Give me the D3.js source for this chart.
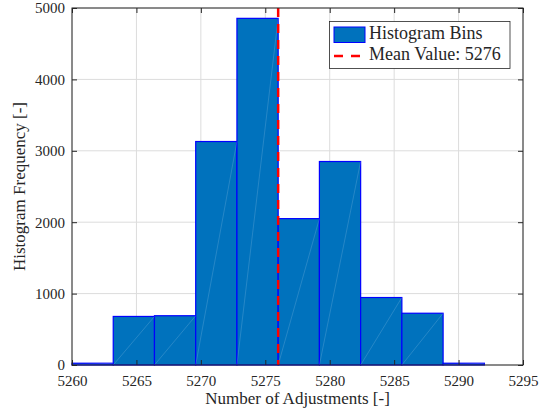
<!DOCTYPE html>
<html>
<head>
<meta charset="utf-8">
<script src="https://cdn.jsdelivr.net/npm/d3@7"></script>
<style>
  html, body { margin: 0; padding: 0; background: #fff; }
  svg { display: block; }
  text { font-family: "Liberation Serif", "DejaVu Serif", serif; fill: #262626; }
</style>
</head>
<body>
<svg id="chart" width="539" height="417"></svg>
<script>
// ---- data ----
const binEdges = [5260, 5263.2, 5266.4, 5269.6, 5272.8, 5276, 5279.2, 5282.4, 5285.6, 5288.8, 5292];
const binCounts = [25, 680, 690, 3130, 4855, 2050, 2850, 945, 725, 25];
const meanValue = 5276;
const xTicks = [5260, 5265, 5270, 5275, 5280, 5285, 5290, 5295];
const yTicks = [0, 1000, 2000, 3000, 4000, 5000];
const xLabel = "Number of Adjustments [-]";
const yLabel = "Histogram Frequency [-]";
const legendLabels = ["Histogram Bins", "Mean Value: 5276"];

// ---- layout ----
const svg = d3.select("#chart");
const L = 72, R = 523, T = 8, B = 365;
const x = d3.scaleLinear().domain([5260, 5295]).range([L, R]);
const y = d3.scaleLinear().domain([0, 5000]).range([B, T]);

// grid
const grid = svg.append("g");
grid.selectAll("line.gx").data(xTicks).join("line")
  .attr("x1", d => x(d)).attr("x2", d => x(d)).attr("y1", T).attr("y2", B)
  .attr("stroke", "#dcdcdc").attr("stroke-width", 1);
grid.selectAll("line.gy").data(yTicks).join("line")
  .attr("x1", L).attr("x2", R).attr("y1", d => y(d)).attr("y2", d => y(d))
  .attr("stroke", "#dcdcdc").attr("stroke-width", 1);

// bars
const bins = binCounts.map((c, i) => ({x0: binEdges[i], x1: binEdges[i + 1], c}));
const bars = svg.append("g");
bars.selectAll("rect").data(bins).join("rect")
  .attr("x", d => x(d.x0)).attr("y", d => y(d.c))
  .attr("width", d => x(d.x1) - x(d.x0)).attr("height", d => y(0) - y(d.c))
  .attr("fill", "#0072BD").attr("stroke", "#0000FF").attr("stroke-width", 1.2);
bars.selectAll("line").data(bins).join("line")
  .attr("x1", d => x(d.x0)).attr("y1", y(0))
  .attr("x2", d => x(d.x1)).attr("y2", d => y(d.c))
  .attr("stroke", "rgba(255,255,255,0.25)").attr("stroke-width", 0.6);

// mean line
svg.append("line")
  .attr("x1", x(meanValue)).attr("x2", x(meanValue)).attr("y1", T).attr("y2", B)
  .attr("stroke", "#FF0000").attr("stroke-width", 2.5).attr("stroke-dasharray", "9,7");

// axes box
const axX = d3.axisBottom(x).tickValues(xTicks).tickSize(-5).tickPadding(10).tickFormat(d3.format("d"));
const axY = d3.axisLeft(y).tickValues(yTicks).tickSize(-5).tickPadding(7).tickFormat(d3.format("d"));
const axXt = d3.axisTop(x).tickValues(xTicks).tickSize(-5).tickFormat("");
const axYr = d3.axisRight(y).tickValues(yTicks).tickSize(-5).tickFormat("");

function style(g) {
  g.select(".domain").remove();
  g.selectAll(".tick line").attr("stroke", "#262626");
  g.selectAll(".tick text").attr("font-size", 15).attr("fill", "#262626");
}
svg.append("g").attr("transform", `translate(0,${B})`).call(axX).call(style);
svg.append("g").attr("transform", `translate(${L},0)`).call(axY).call(style);
svg.append("g").attr("transform", `translate(0,${T})`).call(axXt).call(style);
svg.append("g").attr("transform", `translate(${R},0)`).call(axYr).call(style);
svg.append("rect").attr("x", L).attr("y", T).attr("width", R - L).attr("height", B - T)
  .attr("fill", "none").attr("stroke", "#262626").attr("stroke-width", 1);

// axis labels
svg.append("text").attr("x", (L + R) / 2).attr("y", 404).attr("text-anchor", "middle")
  .attr("font-size", 17).text(xLabel);
svg.append("text").attr("transform", `translate(25,${(T + B) / 2}) rotate(-90)`)
  .attr("text-anchor", "middle").attr("font-size", 17).text(yLabel);

// legend
const lg = svg.append("g");
lg.append("rect").attr("x", 329.5).attr("y", 21.5).attr("width", 180.5).attr("height", 47)
  .attr("fill", "#fff").attr("stroke", "#262626").attr("stroke-width", 0.8);
lg.append("rect").attr("x", 334).attr("y", 27).attr("width", 31).attr("height", 15.5)
  .attr("fill", "#0072BD").attr("stroke", "#0000FF").attr("stroke-width", 1);
lg.append("line").attr("x1", 334).attr("x2", 360).attr("y1", 56).attr("y2", 56)
  .attr("stroke", "#FF0000").attr("stroke-width", 2.5).attr("stroke-dasharray", "9,8");
lg.selectAll("text").data(legendLabels).join("text")
  .attr("x", 369).attr("y", (d, i) => 39 + i * 21)
  .attr("font-size", 18).text(d => d);
</script>
</body>
</html>
